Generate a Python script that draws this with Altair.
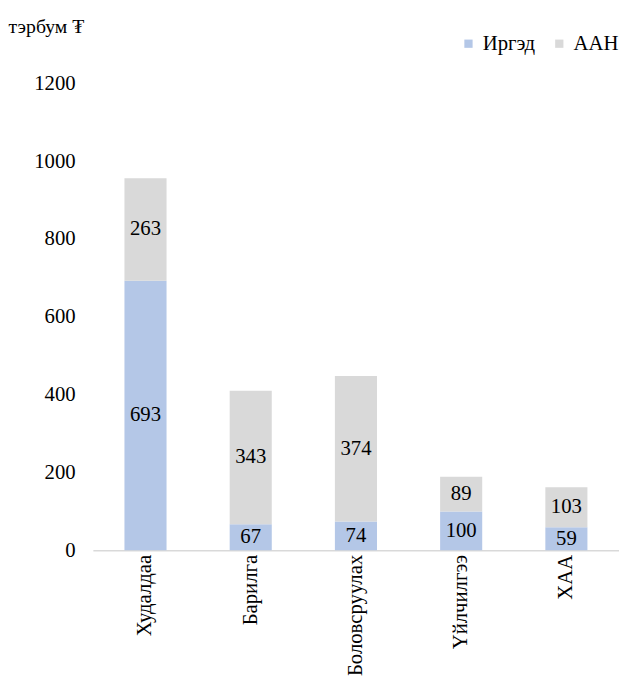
import altair as alt
import pandas as pd

categories = ["Худалдаа", "Барилга", "Боловсруулах", "Үйлчилгээ", "ХАА"]
irged = [693, 67, 74, 100, 59]
aan = [263, 343, 374, 89, 103]
series = ["Иргэд", "ААН"]
colors = ["#B4C7E7", "#D9D9D9"]
y_ticks = [0, 200, 400, 600, 800, 1000, 1200]

rows = []
for i, c in enumerate(categories):
    rows.append({"cat": c, "series": series[0], "order": 0, "value": irged[i]})
    rows.append({"cat": c, "series": series[1], "order": 1, "value": aan[i]})
df = pd.DataFrame(rows)

FONT = "'Times New Roman', 'Liberation Serif', 'DejaVu Serif', serif"
FS = 21

base = alt.Chart(df).transform_stack(
    stack="value", groupby=["cat"], as_=["v0", "v1"], sort=[alt.SortField("order", "ascending")]
).transform_calculate(mid="(datum.v0 + datum.v1) / 2")

x_enc = alt.X(
    "cat:N",
    sort=categories,
    scale=alt.Scale(paddingInner=0.6, paddingOuter=0.3),
    axis=alt.Axis(
        title=None, labelAngle=-90, labelFont=FONT, labelFontSize=FS, labelColor="#000000",
        labelPadding=4, ticks=False, domainColor="#D9D9D9", domainWidth=1.5, labelLimit=300,
    ),
)

bars = base.mark_bar().encode(
    x=x_enc,
    y=alt.Y(
        "v0:Q",
        scale=alt.Scale(domain=[0, 1200], nice=False),
        axis=alt.Axis(
            values=y_ticks, format="d", grid=False, domain=False, ticks=False, labelFont=FONT,
            labelFontSize=FS, labelColor="#000000", labelPadding=18,
            title="тэрбум ₮", titleAngle=0, titleX=-86, titleY=-52, titleAlign="left",
            titleBaseline="alphabetic", titleFont=FONT, titleFontSize=FS - 1,
            titleFontWeight="normal", titleColor="#000000",
        ),
    ),
    y2="v1:Q",
    color=alt.Color(
        "series:N",
        scale=alt.Scale(domain=series, range=colors),
        legend=alt.Legend(
            title=None, orient="none", legendX=370, legendY=-51, direction="horizontal",
            symbolType="square", symbolSize=70, symbolStrokeWidth=0, labelFont=FONT,
            labelFontSize=FS, labelColor="#000000", columnPadding=14, labelOffset=4,
        ),
    ),
)

texts = base.mark_text(font=FONT, fontSize=FS, color="#000000", baseline="middle").encode(
    x=alt.X("cat:N", sort=categories),
    y=alt.Y("mid:Q"),
    text=alt.Text("value:Q"),
)

chart = alt.layer(bars, texts).properties(
    width=533,
    height=473,
    padding={"left": 86, "top": 72, "right": 0, "bottom": 130},
    autosize=alt.AutoSizeParams(type="none"),
).configure_view(stroke=None)

chart.save("out.html", embed_options={"renderer": "svg", "actions": False})
